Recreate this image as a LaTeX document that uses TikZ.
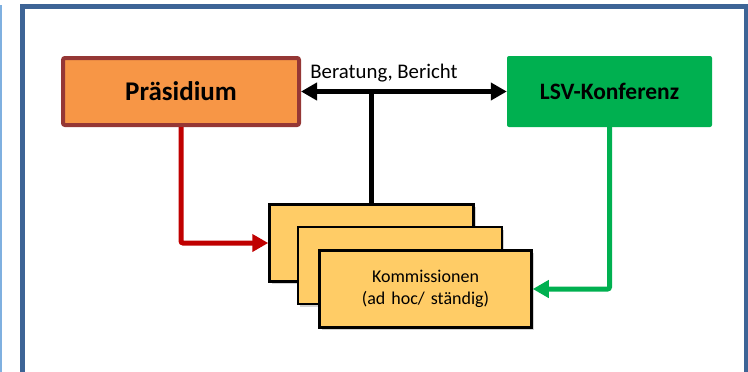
\documentclass[tikz,border=0pt]{standalone}
\usepackage{fontspec}
\setmainfont{Carlito}
\usetikzlibrary{arrows.meta,shadows}

\definecolor{frameblue}{HTML}{3D6496}
\definecolor{edgeblue}{HTML}{7FB0E0}
\definecolor{praeorange}{HTML}{F79646}
\definecolor{praered}{HTML}{953735}
\definecolor{lsvgreen}{HTML}{00B050}
\definecolor{komyellow}{HTML}{FFCC66}
\definecolor{arrowred}{HTML}{C00000}

\begin{document}
\begin{tikzpicture}[x=1pt, y=-1pt,
	mainbox/.style={
		rectangle, rounded corners=2pt,
		text=black, inner sep=0pt,
		minimum height=67pt
	},
	kombox/.style={
		rectangle, draw=black, line width=2.5pt, fill=komyellow,
		minimum width=204pt, minimum height=77pt, text centered,
		drop shadow={opacity=0.35, shadow xshift=2pt, shadow yshift=-2.5pt}
	},
	line/.style={draw, line width=5pt, -{Triangle[length=16pt, width=17pt]}},
	]
	\clip (0,0) rectangle (748,372);
	% frame
	\draw[edgeblue, line width=1.5pt] (0.75,5) -- (0.75,380);
	\draw[frameblue, line width=5pt] (22,6.5) rectangle (746.5,400);

	\node [mainbox, draw=praered, line width=4pt, fill=praeorange,
		minimum width=236pt, font=\fontsize{27}{32}\selectfont\bfseries]
		(prae) at (181,91.5) {Präsidium};
	\node [mainbox, fill=lsvgreen, minimum width=205pt, minimum height=71pt,
		font=\fontsize{23.5}{28}\selectfont\bfseries]
		(lsv) at (609.5,91.5) {LSV-Konferenz};

	\node [kombox] (k1) at (371.5,243) {};
	\node [kombox] (k2) at (400,265.5) {};
	\node [kombox, minimum width=212pt, text width=200pt,
		font=\fontsize{18}{21.5}\selectfont]
		(k3) at (425.5,289) {Kommissionen\\(ad hoc/ ständig)};

	\node [font=\fontsize{20.8}{24}\selectfont] (lbl) at (384,73) {Beratung, Bericht};

	\path [line, {Triangle[length=16pt, width=17pt]}-{Triangle[length=16pt, width=17pt]}]
		(prae.east) -- (lsv.west);
	\draw [line width=5pt] (k1.north) -- (k1.north |- prae.east);
	\path [line, draw=arrowred, arrowred, rounded corners=2pt] (prae.south) |- (k1.west);
	\path [line, draw=lsvgreen, lsvgreen, rounded corners=2pt] (lsv.south) |- (k3.east);
\end{tikzpicture}
\end{document}
